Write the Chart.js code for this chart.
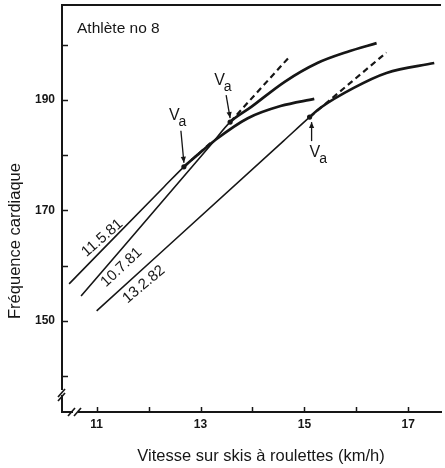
<!DOCTYPE html>
<html>
<head>
<meta charset="utf-8">
<script src="https://cdn.jsdelivr.net/npm/chart.js@4.4.1/dist/chart.umd.min.js"></script>
<style>
  html, body { margin: 0; padding: 0; background: #fff; overflow: hidden; }
  #wrap { width: 445px; height: 468px; position: relative; }
</style>
</head>
<body>
<div id="wrap"><canvas id="hrChart"></canvas></div>
<script>
// Fréquence cardiaque vs vitesse, 3 tests (athlète no 8)
const curveNames = ['11.5.81', '10.7.81', '13.2.82'];

const speed1 = [10.47, 12.30, 12.68, 12.96, 13.29, 13.91, 14.54, 15.19];
const hr1    = [156.7, 174.3, 177.9, 180.2, 182.8, 186.7, 188.9, 190.2];

const speed2 = [10.70, 13.20, 13.57, 13.97, 14.62, 15.25, 15.82, 16.39];
const hr2    = [154.5, 181.9, 186.0, 188.7, 193.3, 196.7, 198.7, 200.3];

const speed3 = [11.00, 14.60, 15.10, 15.31, 15.95, 16.58, 17.50];
const hr3    = [151.8, 182.6, 186.9, 188.6, 192.2, 194.9, 196.7];

// prolongements lineaires (tirets)
const dashSpeed1 = [12.68, 13.19];
const dashHr1    = [177.9, 182.2];
const dashSpeed2 = [13.57, 14.71];
const dashHr2    = [186.0, 197.8];
const dashSpeed3 = [15.10, 16.58];
const dashHr3    = [186.9, 198.6];

// seuils Va
const vaSpeed = [12.68, 13.57, 15.10];
const vaHr    = [177.9, 186.0, 186.9];

const xTicks = [11, 12, 13, 14, 15, 16, 17];
const xTickLabels = [11, 13, 15, 17];
const yTicks = [140, 150, 160, 170, 180, 190, 200];
const yTickLabels = [150, 170, 190];

const xTitle = 'Vitesse sur skis à roulettes (km/h)';
const yTitle = 'Fréquence cardiaque';

const ink = '#161616';
const font = '"Liberation Sans", Arial, Helvetica, sans-serif';

function pts(xs, ys) {
  return xs.map((x, i) => ({ x: x, y: ys[i] }));
}

// index of Va point in each curve: straight part before it is drawn thinner
const vaIndex = [2, 2, 2];

function curve(xs, ys, k) {
  return {
    data: pts(xs, ys),
    borderColor: ink,
    borderWidth: 2.4,
    pointRadius: 0,
    showLine: true,
    cubicInterpolationMode: 'monotone',
    segment: {
      borderWidth: ctx => ctx.p0DataIndex < vaIndex[k] ? 1.6 : 2.7
    }
  };
}

function dashed(xs, ys) {
  return {
    data: pts(xs, ys),
    borderColor: ink,
    borderWidth: 2.2,
    borderDash: [6, 4],
    pointRadius: 0,
    showLine: true
  };
}

// annotation layout (pixels relative to the Va point)
const vaMarks = [
  { vx: -15, vy: -47, from: [-3, -36], to: [0, -4] },
  { vx: -16, vy: -37, from: [-4, -27], to: [0, -4] },
  { vx: 0, vy: 40, from: [2, 24], to: [2, 5] }
];
// label centres (data units) and angles of the date labels
const labelPos = [[11.11, 165.0], [11.48, 159.7], [11.91, 156.6]];
const labelAngle = [-41, -43, -40];

const decor = {
  id: 'decor',
  afterDraw(chart) {
    const { ctx, chartArea: a, scales: { x, y } } = chart;
    ctx.save();
    ctx.strokeStyle = ink;
    ctx.fillStyle = ink;

    function line(x0, y0, x1, y1) {
      ctx.beginPath();
      ctx.moveTo(x0, y0);
      ctx.lineTo(x1, y1);
      ctx.stroke();
    }

    // cadre du haut
    ctx.lineWidth = 2;
    line(a.left - 1, a.top, a.right, a.top);

    // graduations vers l'interieur
    ctx.lineWidth = 1.5;
    y.ticks.forEach(t => {
      const py = Math.round(y.getPixelForValue(t.value)) + 0.5;
      line(a.left, py, a.left + 6, py);
    });
    x.ticks.forEach(t => {
      const px = Math.round(x.getPixelForValue(t.value)) + 0.5;
      line(px, a.bottom, px, a.bottom - 5);
    });

    // coupures d'axes
    ctx.fillStyle = '#fff';
    ctx.fillRect(a.left - 3, a.bottom - 22, 6, 5);
    ctx.fillRect(a.left + 11, a.bottom - 3, 5, 6);
    ctx.lineWidth = 1.6;
    line(a.left - 4, a.bottom - 15, a.left + 3, a.bottom - 23);
    line(a.left - 4, a.bottom - 11, a.left + 3, a.bottom - 19);
    line(a.left + 6, a.bottom + 4, a.left + 13, a.bottom - 4);
    line(a.left + 12, a.bottom + 4, a.left + 19, a.bottom - 4);

    // Va : fleches et textes
    ctx.fillStyle = ink;
    ctx.lineWidth = 1.3;
    vaSpeed.forEach((v, i) => {
      const px = x.getPixelForValue(v);
      const py = y.getPixelForValue(vaHr[i]);
      const m = vaMarks[i];
      const x0 = px + m.from[0], y0 = py + m.from[1];
      const x1 = px + m.to[0], y1 = py + m.to[1];
      line(x0, y0, x1, y1);
      const ang = Math.atan2(y1 - y0, x1 - x0);
      ctx.beginPath();
      ctx.moveTo(x1, y1);
      ctx.lineTo(x1 - 6 * Math.cos(ang) + 2.6 * Math.sin(ang), y1 - 6 * Math.sin(ang) - 2.6 * Math.cos(ang));
      ctx.lineTo(x1 - 6 * Math.cos(ang) - 2.6 * Math.sin(ang), y1 - 6 * Math.sin(ang) + 2.6 * Math.cos(ang));
      ctx.closePath();
      ctx.fill();

      ctx.textAlign = 'left';
      ctx.textBaseline = 'alphabetic';
      ctx.font = '16px ' + font;
      ctx.fillText('V', px + m.vx, py + m.vy);
      const w = ctx.measureText('V').width;
      ctx.font = '14px ' + font;
      ctx.fillText('a', px + m.vx + w - 1, py + m.vy + 6);
    });

    // dates des courbes
    ctx.font = '15px ' + font;
    ctx.textAlign = 'center';
    ctx.textBaseline = 'middle';
    curveNames.forEach((name, i) => {
      const px = x.getPixelForValue(labelPos[i][0]);
      const py = y.getPixelForValue(labelPos[i][1]);
      ctx.save();
      ctx.translate(px, py);
      ctx.rotate(labelAngle[i] * Math.PI / 180);
      ctx.fillText(name, 0, 0);
      ctx.restore();
    });

    // titre interne
    ctx.font = '15.5px ' + font;
    ctx.textAlign = 'left';
    ctx.textBaseline = 'alphabetic';
    ctx.fillText('Athlète no 8', a.left + 15, a.top + 28);

    // titres des axes
    ctx.font = '16.5px ' + font;
    ctx.textAlign = 'center';
    ctx.textBaseline = 'middle';
    ctx.fillText(xTitle, 261, 456);
    ctx.save();
    ctx.translate(15, 241);
    ctx.rotate(-Math.PI / 2);
    ctx.fillText(yTitle, 0, 0);
    ctx.restore();

    ctx.restore();
  }
};

function fixBox(size) {
  return function (scale) {
    if (scale.isHorizontal()) scale.height = size; else scale.width = size;
    scale.paddingTop = 0;
    scale.paddingBottom = 0;
    scale.paddingLeft = 0;
    scale.paddingRight = 0;
  };
}

new Chart(document.getElementById('hrChart'), {
  type: 'scatter',
  data: {
    datasets: [
      curve(speed1, hr1, 0),
      curve(speed2, hr2, 1),
      curve(speed3, hr3, 2),
      dashed(dashSpeed1, dashHr1),
      dashed(dashSpeed2, dashHr2),
      dashed(dashSpeed3, dashHr3),
      {
        data: pts(vaSpeed, vaHr),
        pointRadius: 2.6,
        pointBackgroundColor: ink,
        pointBorderWidth: 0,
        showLine: false
      }
    ]
  },
  options: {
    responsive: true,
    maintainAspectRatio: false,
    animation: false,
    events: [],
    layout: { padding: { top: 5, right: 0, left: 0, bottom: 0 } },
    plugins: {
      legend: { display: false },
      tooltip: { enabled: false }
    },
    scales: {
      x: {
        type: 'linear',
        min: 10.333,
        max: 17.63,
        afterFit: fixBox(56),
        afterBuildTicks: s => { s.ticks = xTicks.map(v => ({ value: v })); },
        grid: { display: false, drawTicks: false },
        border: { display: true, color: ink, width: 2 },
        ticks: {
          padding: 5,
          color: ink,
          autoSkip: false,
          maxRotation: 0,
          font: { family: font, size: 12, weight: 'bold' },
          callback: v => xTickLabels.includes(v) ? String(v) : ''
        },
        title: { display: false, text: xTitle }
      },
      y: {
        type: 'linear',
        min: 133.5,
        max: 207.2,
        afterFit: fixBox(62),
        afterBuildTicks: s => { s.ticks = yTicks.map(v => ({ value: v })); },
        grid: { display: false, drawTicks: false },
        border: { display: true, color: ink, width: 2 },
        ticks: {
          padding: 7,
          color: ink,
          autoSkip: false,
          font: { family: font, size: 12, weight: 'bold' },
          callback: v => yTickLabels.includes(v) ? String(v) : ''
        },
        title: { display: false, text: yTitle }
      }
    }
  },
  plugins: [decor]
});
</script>
</body>
</html>
